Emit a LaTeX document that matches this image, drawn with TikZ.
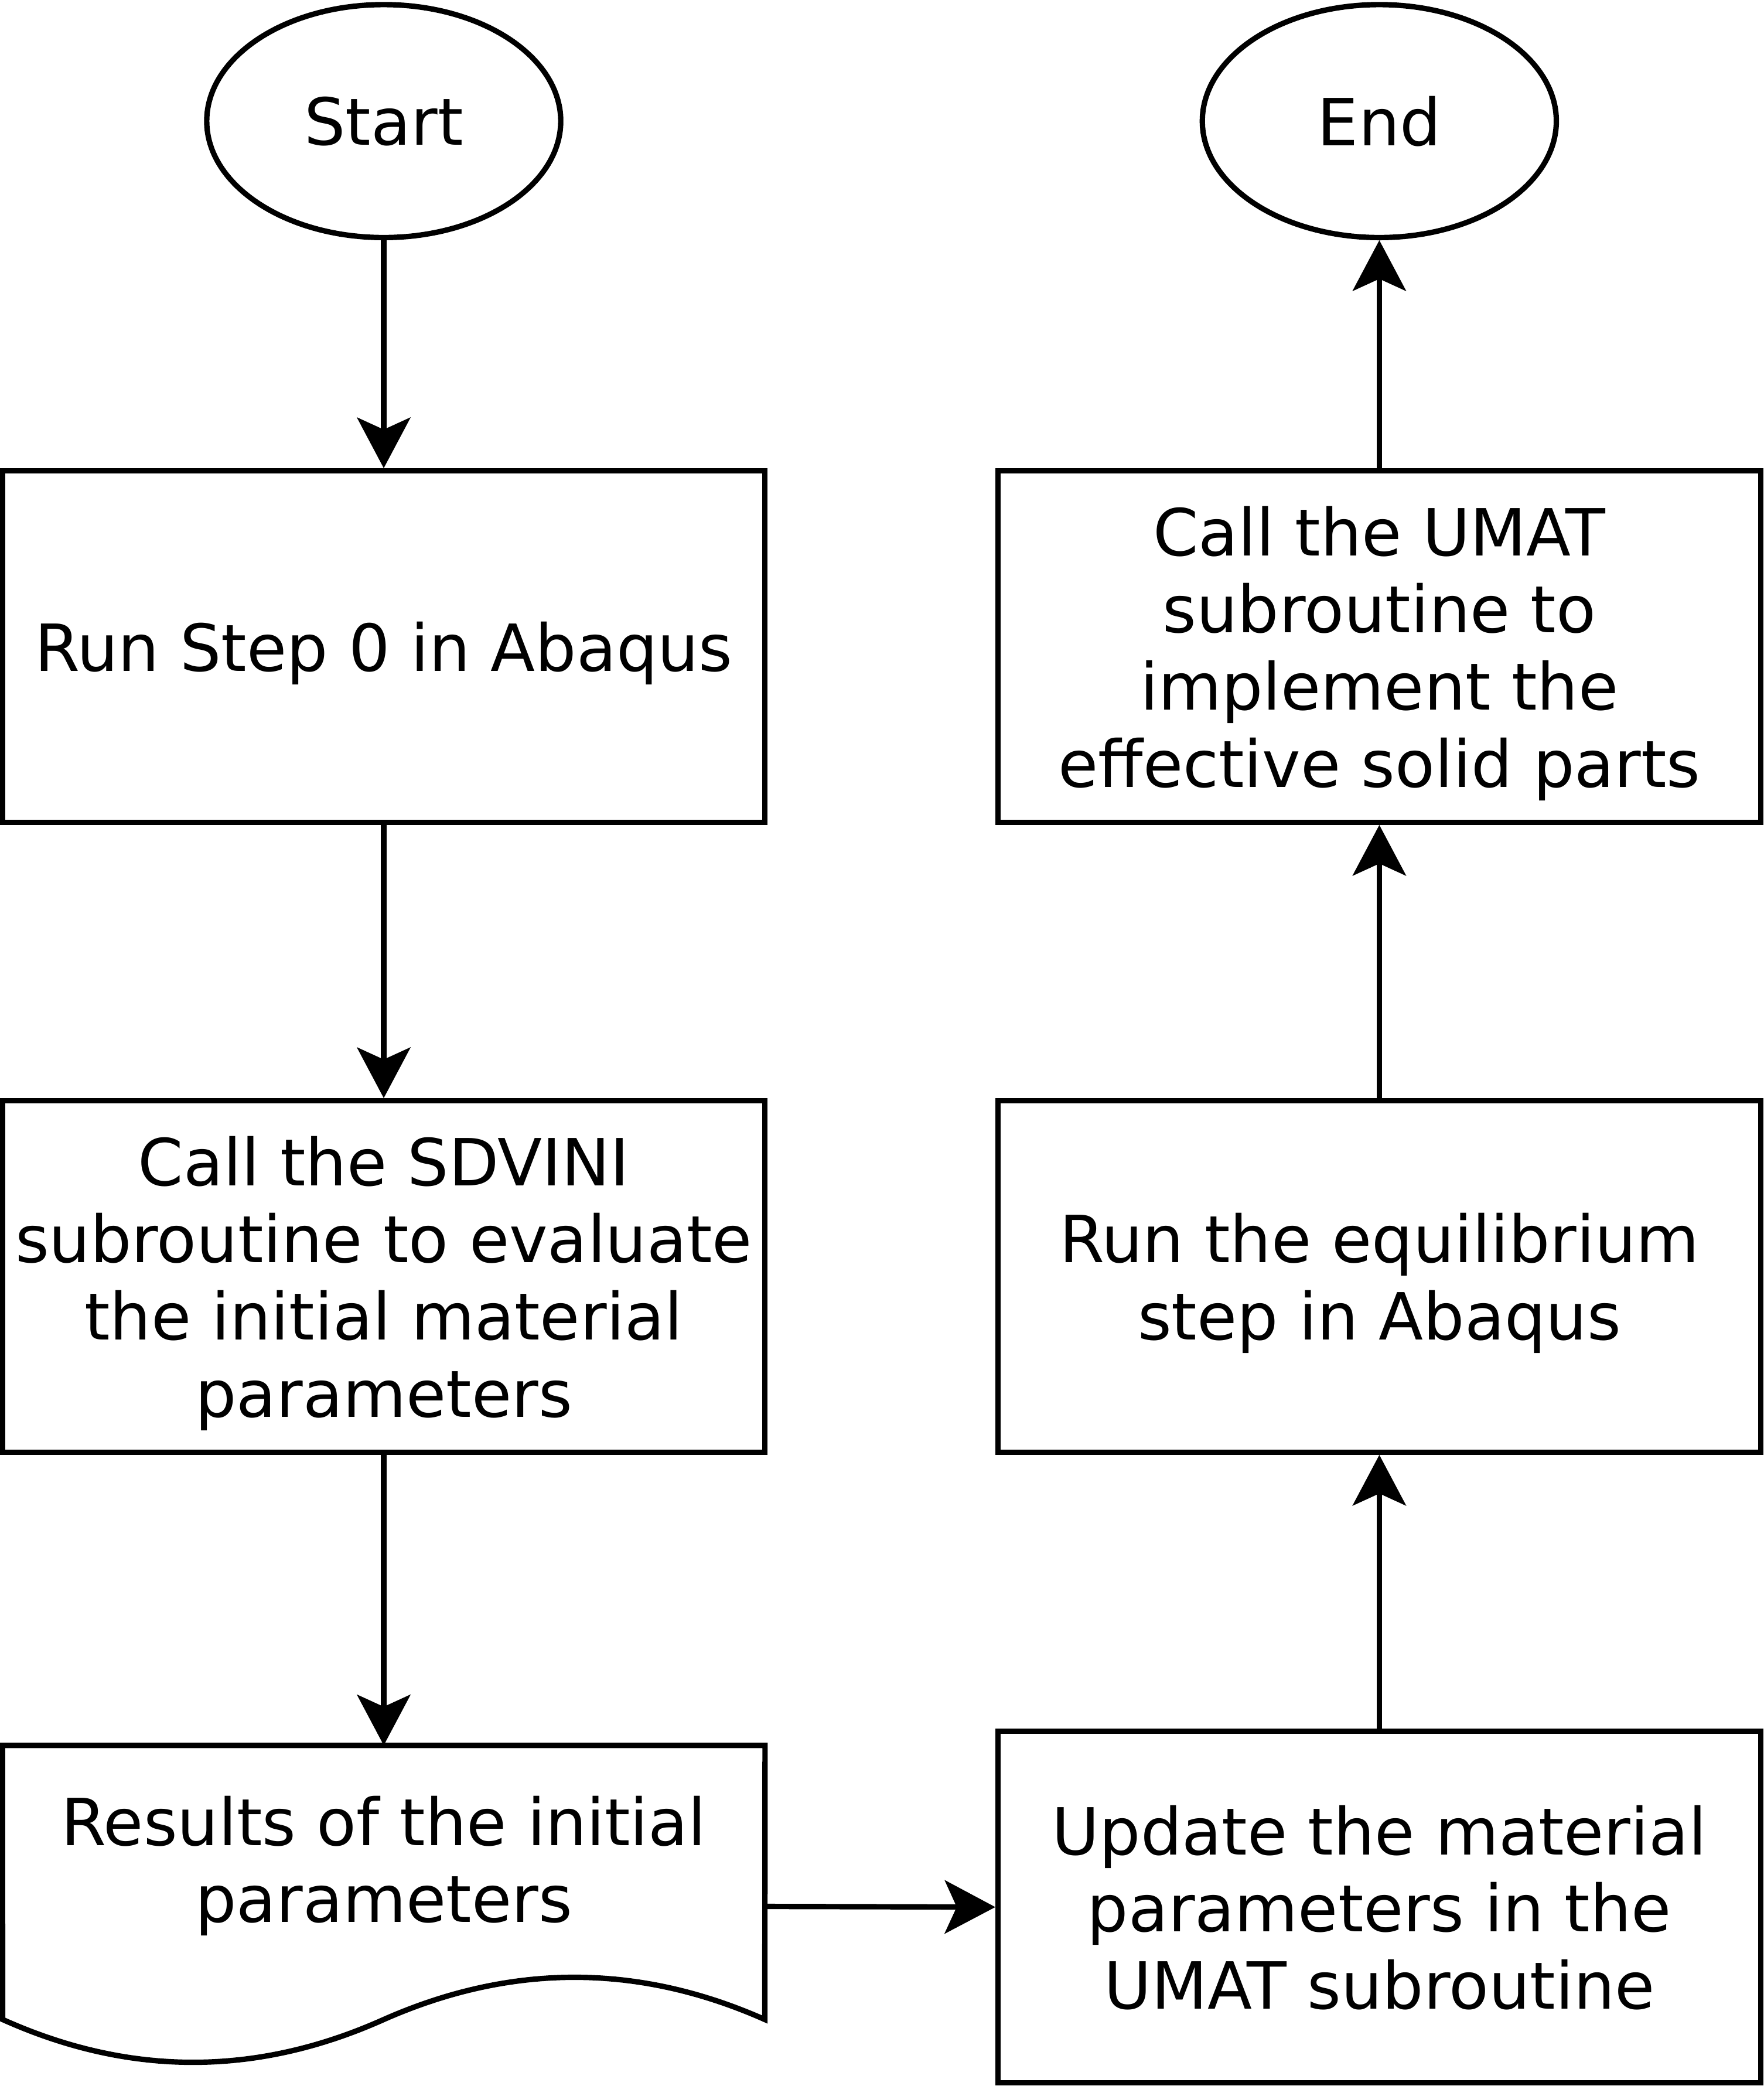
\documentclass[tikz,border=0pt]{standalone}
\usepackage{fontspec}
\setmainfont{DejaVu Sans}
\usetikzlibrary{arrows.meta,shapes.geometric}

\tikzset{
  box/.style={draw, line width=1.15pt, rectangle, minimum width=5.73cm,
    minimum height=2.64cm, inner sep=0pt, align=center, text depth=-2pt},
  term/.style={draw, line width=1.15pt, ellipse, minimum width=2.66cm,
    minimum height=1.75cm, inner sep=0pt},
  flow/.style={line width=1.15pt, -{Stealth[length=3.8mm,width=4mm,inset=0.9mm]}},
}

\begin{document}
\begin{tikzpicture}[x=0.01cm, y=-0.01cm,
  every node/.style={font=\fontsize{13.9}{16.5}\selectfont}]

  \useasboundingbox (0,0) rectangle (1326,1568);

  % left column
  \node[term] (start) at (288.5,91) {Start};
  \node[box] (step0) at (288.5,486) {Run Step 0 in Abaqus};
  \node[box] (sdvini) at (288.5,959.5) {Call the SDVINI\\subroutine to evaluate\\the initial material\\parameters};
  \node[box, draw=none, outer sep=0pt, minimum height=2.42cm] (doc) at (288.5,1433) {};
  \draw[line width=1.15pt] (doc.north west) -- (doc.north east) -- (575,1518)
    .. controls (479.7,1475.7) and (384.2,1475.7) .. (288.5,1518)
    .. controls (192.8,1560.9) and (97.3,1560.9) .. (2,1518) -- cycle;
  \node[align=center, text depth=-2pt] (doctxt) at (288.5,1397.5) {Results of the initial\\parameters};

  % right column
  \node[box] (update) at (1037,1433.5) {Update the material\\parameters in the\\UMAT subroutine};
  \node[box] (equil) at (1037,959.5) {Run the equilibrium\\step in Abaqus};
  \node[box] (umat) at (1037,486) {Call the UMAT\\subroutine to\\implement the\\effective solid parts};
  \node[term] (end) at (1037,91) {End};

  \draw[flow] (start) -- (step0);
  \draw[flow] (step0) -- (sdvini);
  \draw[flow] (sdvini) -- (doc);
  \draw[flow] (doc.east) -- (update.west);
  \draw[flow] (update) -- (equil);
  \draw[flow] (equil) -- (umat);
  \draw[flow] (umat) -- (end);

\end{tikzpicture}
\end{document}
